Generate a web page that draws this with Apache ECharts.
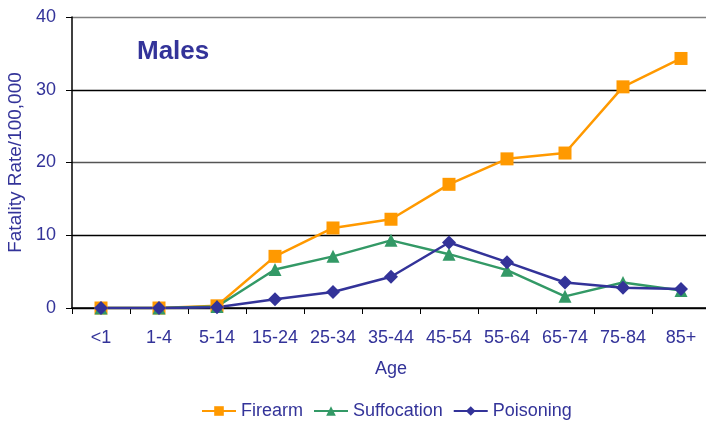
<!DOCTYPE html>
<html><head><meta charset="utf-8">
<script src="https://cdn.jsdelivr.net/npm/echarts@6/dist/echarts.min.js"></script>
<style>html,body{margin:0;padding:0;background:#fff}#c{width:706px;height:423px}</style>
</head><body><div id="c"></div>
<script>
const categories = ['<1','1-4','5-14','15-24','25-34','35-44','45-54','55-64','65-74','75-84','85+'];
const firearm = [0, 0, 0.3, 7.1, 11.0, 12.2, 17.0, 20.5, 21.3, 30.4, 34.3];
const suffocation = [0, 0, 0.2, 5.3, 7.1, 9.3, 7.4, 5.2, 1.6, 3.5, 2.4];
const poisoning = [0, 0, 0.1, 1.2, 2.2, 4.3, 9.0, 6.3, 3.5, 2.8, 2.6];
const yTicks = [0, 10, 20, 30, 40];

const txt = '#333399';
const font = 'Liberation Sans, Arial, sans-serif';
const chart = echarts.init(document.getElementById('c'));
function ser(name, data, color, symbol, size) {
  return {name, type:'line', data, symbol, symbolSize:size, showAllSymbol:true,
    lineStyle:{color, width:2.5}, itemStyle:{color}, z:3};
}
chart.setOption({
  animation:false,
  textStyle:{fontFamily:font},
  title:{text:'Males', left:137, top:39, padding:0, textStyle:{color:txt, fontSize:26, fontWeight:'bold', fontFamily:font}},
  grid:{left:72, right:-4, top:17, bottom:115, containLabel:false, outerBoundsMode:'none'},
  legend:{bottom:-2, left:196, itemWidth:34, itemHeight:12, itemGap:10,
    textStyle:{color:txt, fontSize:18, fontFamily:font},
    data:['Firearm','Suffocation','Poisoning']},
  xAxis:{type:'category', data:categories, boundaryGap:true,
    name:'Age', nameLocation:'middle', nameGap:52,
    nameTextStyle:{color:txt, fontSize:18, fontFamily:font},
    axisLine:{lineStyle:{color:'#000', width:1.5}},
    axisTick:{show:true, alignWithLabel:false, length:6, lineStyle:{color:'#000'}},
    axisLabel:{color:txt, fontSize:18, margin:21, fontFamily:font, interval:0}},
  yAxis:{type:'value', min:0, max:40, interval:10,
    name:'Fatality Rate/100,000', nameLocation:'middle', nameGap:42,
    nameTextStyle:{color:txt, fontSize:19, fontFamily:font},
    axisLine:{show:true, lineStyle:{color:'#000', width:1.5}},
    axisTick:{show:true, length:6, inside:false, lineStyle:{color:'#000'}},
    axisLabel:{color:txt, fontSize:18, margin:16, fontFamily:font,
      formatter:v=>yTicks.includes(v)?String(v):''},
    splitLine:{show:true, lineStyle:{color:['#000','#000','#555','#000','#808080'], width:1.3}}},
  series:[
    ser('Firearm', firearm, '#FF9900', 'rect', 13),
    ser('Suffocation', suffocation, '#339966', 'triangle', 13),
    ser('Poisoning', poisoning, '#333399', 'diamond', 14)
  ]
});
</script></body></html>
